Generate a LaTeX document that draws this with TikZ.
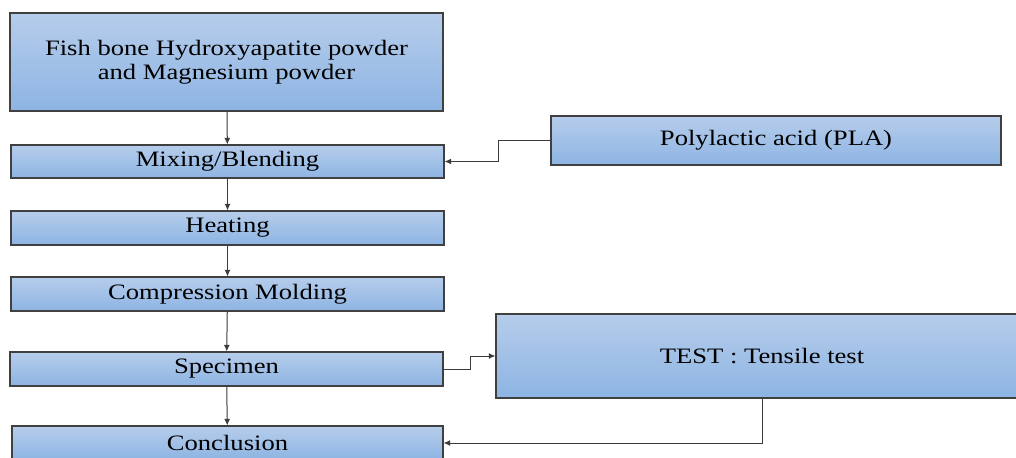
\documentclass[tikz,border=0pt]{standalone}
\usepackage{fontspec}
\setmainfont{Liberation Serif}
\usetikzlibrary{arrows.meta}
\definecolor{boxtop}{RGB}{182,205,235}
\definecolor{boxbot}{RGB}{141,180,227}
\definecolor{edgegray}{RGB}{64,64,64}
\definecolor{linkgray}{RGB}{60,60,60}
% widened serif lettering used in every box
\newcommand\wide[1]{\scalebox{1.21}[1]{#1}}
\tikzset{
  stagebox/.style={draw=edgegray, line width=0.8pt, top color=boxtop, bottom color=boxbot,
    inner sep=0pt, align=center, text=black,
    font=\fontsize{16.5}{18}\selectfont},
  link/.style={draw=linkgray, line width=0.75pt, -{Latex[length=5pt,width=4.5pt]}}
}
\begin{document}
\begin{tikzpicture}[x=0.75pt, y=-0.75pt]
\useasboundingbox (0,0) rectangle (1016,457);
\clip (0,0) rectangle (1016,457);

% main process column
\node[stagebox, minimum width={433*0.75pt}, minimum height={98*0.75pt}] (src) at (226.5,62)
  {\wide{Fish bone Hydroxyapatite powder}\\\wide{and Magnesium powder}};
\node[stagebox, minimum width={433*0.75pt}, minimum height={33*0.75pt}] (mix) at (227.5,161.5)
  {\wide{Mixing/Blending}};
\node[stagebox, minimum width={433*0.75pt}, minimum height={34*0.75pt}] (heat) at (227.5,228)
  {\wide{Heating}};
\node[stagebox, minimum width={433*0.75pt}, minimum height={34*0.75pt}] (comp) at (227.5,294)
  {\wide{Compression Molding}};
\node[stagebox, minimum width={433*0.75pt}, minimum height={34*0.75pt}] (spec) at (226.5,369)
  {\wide{Specimen}};
\node[stagebox, minimum width={431*0.75pt}, minimum height={34*0.75pt}] (concl) at (227.5,443)
  {\wide{Conclusion}};

% side inputs and tests
\node[stagebox, minimum width={450*0.75pt}, minimum height={49*0.75pt}] (pla) at (776,140.5)
  {\wide{Polylactic acid (PLA)}};
\node[stagebox, minimum width={532*0.75pt}, minimum height={84*0.75pt}] (test) at (762,356)
  {\wide{TEST : Tensile test}};

% elbow points
\coordinate (j1) at (498,0);
\coordinate (j2) at (470,0);

% connectors
\draw[link] (src) -- (mix);
\draw[link] (mix) -- (heat);
\draw[link] (heat) -- (comp);
\draw[link] (comp) -- (spec);
\draw[link] (spec) -- (concl);
\draw[link] (pla.west) -- (pla.west -| j1) |- (mix.east);
\draw[link] (spec.east) -- (spec.east -| j2) |- (test.west);
\draw[link] (test.south) |- (concl.east);
\end{tikzpicture}
\end{document}
